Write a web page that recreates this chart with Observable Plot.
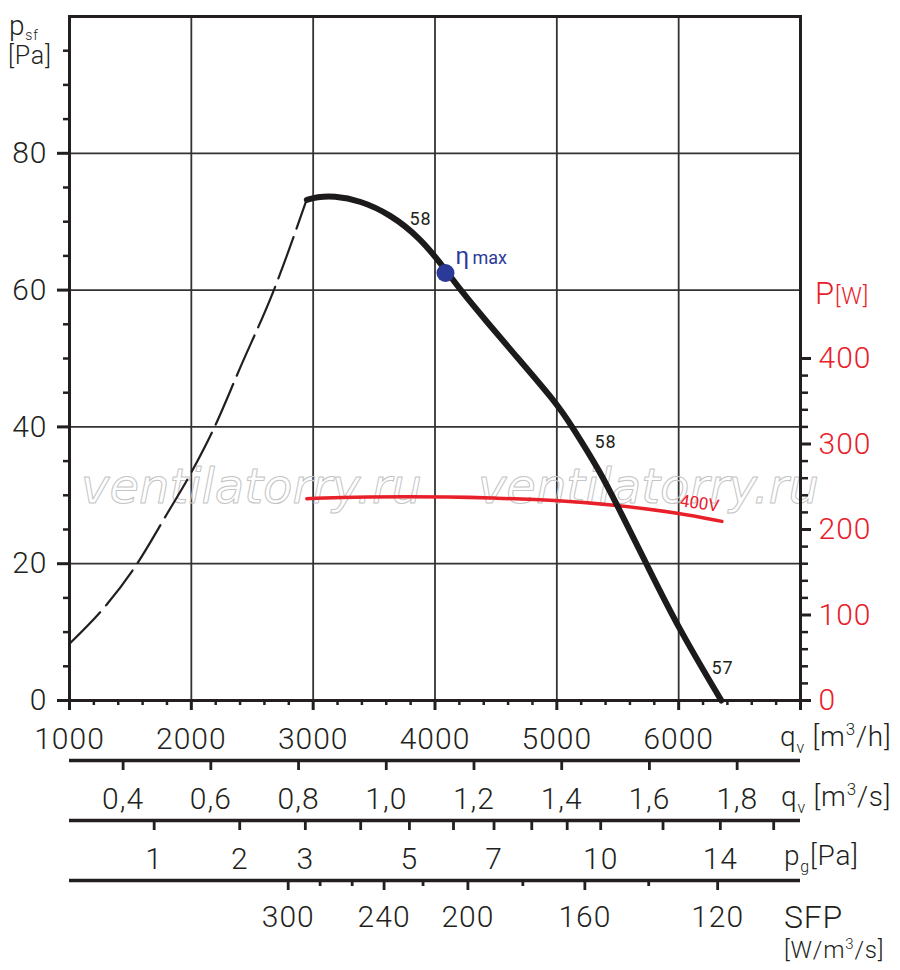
<!DOCTYPE html>
<html>
<head>
<meta charset="utf-8">
<script src="https://cdn.jsdelivr.net/npm/d3@7"></script>
<script src="https://cdn.jsdelivr.net/npm/@observablehq/plot@0.6"></script>
<style>
  html, body { margin: 0; padding: 0; background: white; }
  #chart { width: 900px; line-height: 0; }
  #chart svg { display: block; }
</style>
</head>
<body>
<div id="chart"></div>
<script>
// ---------- data ----------
// fan curve (static pressure p_sf [Pa] vs flow q_v [m3/h]) – unstable (dashed) part
const flowDashed     = [1000, 1309, 1555, 1801, 1992, 2183, 2402, 2675, 2948];
const pressureDashed = [8.3, 14.1, 20.0, 27.3, 33.1, 39.7, 48.7, 59.9, 73.3];
// fan curve – working (solid) part
const flowSolid      = [2948, 3030, 3167, 3385, 3631, 3881, 4086, 4209, 4424, 4620, 4998, 5120, 5352, 5516, 5735, 5994, 6350];
const pressureSolid  = [73.2, 73.6, 73.8, 73.1, 71.1, 67.6, 63.0, 60.0, 55.4, 51.3, 43.5, 40.2, 33.6, 27.8, 20.0, 10.7, 0];
// power curve P [W] (400V)
const flowPower      = [2948, 3389, 4209, 4428, 4990, 5492, 5998, 6355];
const powerW         = [236, 238.5, 238.2, 237.0, 234.3, 228.5, 219.4, 209.5];
// max efficiency point
const etaMax = [{q: 4086, p: 62.5}];
// efficiency labels along the curve
const effLabels = [
  {q: 3881, p: 70.3, t: "58"},
  {q: 5400, p: 37.7, t: "58"},
  {q: 6360, p: 4.7,  t: "57"}
];

// axes
const flowDomain      = [1000, 7000];
const pressureDomain  = [0, 100];
const flowLabels      = [1000, 2000, 3000, 4000, 5000, 6000];
const flowGrid        = [2000, 3000, 4000, 5000, 6000];
const pressureLabels  = [0, 20, 40, 60, 80];
const pressureGrid    = [20, 40, 60, 80];
const powerLabels     = [0, 100, 200, 300, 400];
const W_PER_PA        = 8;          // right axis: 800 W spans the same height as 100 Pa

// secondary flow scales
const qsTicks     = [0.4, 0.6, 0.8, 1.0, 1.2, 1.4, 1.6, 1.8];      // m3/s
const SEC_PER_H   = 3600;
const pgLabeled   = [1, 2, 3, 5, 7, 10, 14];                        // dynamic pressure [Pa]
const pgUnlabeled = [4, 6, 8, 9, 12, 16];
const PG_FLOW_1PA = 1695;                                           // flow [m3/h] at p_g = 1 Pa
const sfpLabeled       = [300, 240, 200, 160, 120];                 // SFP [W/(m3/s)]
const sfpLabeledFlow   = [2795, 3582, 4270, 5230, 6320];            // read positions [m3/h]
const sfpUnlabeled     = [280, 260, 220, 180, 140];
const sfpUnlabeledFlow = [3057, 3320, 3902, 4721, 5754];

// ---------- derived tables ----------
const dashed = flowDashed.map((q, i) => ({q, p: pressureDashed[i]}));
const solid  = flowSolid.map((q, i) => ({q, p: pressureSolid[i]}));
const power  = flowPower.map((q, i) => ({q, w: powerW[i]}));
const flowMinor = d3.range(1200, 7000, 200).filter(v => v % 1000 !== 0);
const pressureMinor = d3.range(5, 100, 5).filter(v => v % 20 !== 0);
const powerMinor = d3.range(20, 400, 20).filter(v => v % 100 !== 0);

const INK = "#231f20";
const RED = "#e8202a";
const BLUE = "#2b3a98";
const FONT = "Roboto, 'DejaVu Sans', sans-serif";

const main = Plot.plot({
  width: 900, height: 758,
  marginLeft: 69, marginRight: 100, marginTop: 16, marginBottom: 58,
  x: {domain: flowDomain},
  y: {domain: pressureDomain},
  style: {fontFamily: FONT, fontSize: "30px", color: INK, background: "white", fontWeight: 300},
  marks: [
    Plot.ruleX(flowGrid, {stroke: "#333", strokeWidth: 1.8}),
    Plot.ruleY(pressureGrid, {stroke: "#333", strokeWidth: 1.8}),
    Plot.text([2494, 5752], {x: d => d, y: 31.1, text: () => "ventilatorry.ru",
      fontFamily: "'DejaVu Sans', sans-serif", fontStyle: "italic", fontSize: 48, fontWeight: 400,
      fill: "none", stroke: "#c4c4c4", strokeWidth: 1}),
    Plot.frame({stroke: INK, strokeWidth: 3}),
    Plot.line(dashed, {x: "q", y: "p", curve: "monotone-x", stroke: INK, strokeWidth: 2.2, strokeDasharray: "44 9"}),
    Plot.line(power, {x: "q", y: d => d.w / W_PER_PA, curve: "basis", stroke: RED, strokeWidth: 3.5, strokeLinecap: "round"}),
    Plot.line(solid, {x: "q", y: "p", curve: "basis", stroke: "#1c1a1a", strokeWidth: 6, strokeLinecap: "round", strokeLinejoin: "round"}),
    Plot.dot(etaMax, {x: "q", y: "p", r: 9, fill: BLUE}),
    Plot.text(etaMax, {x: d => d.q + 82, y: d => d.p + 2.5, text: () => "η", textAnchor: "start", fontSize: 24, fill: BLUE, fontWeight: 400}),
    Plot.text(etaMax, {x: d => d.q + 222, y: d => d.p + 2.2, text: () => "max", textAnchor: "start", fontSize: 18, fill: BLUE, fontWeight: 400}),
    Plot.text(effLabels, {x: "q", y: "p", text: "t", fontSize: 18, fill: INK, fontWeight: 400}),
    Plot.text([{q: 6171, p: 28.8}], {x: "q", y: "p", text: () => "400V", rotate: 8, fontSize: 17, fill: RED, fontWeight: 400}),
    // bottom flow axis
    Plot.axisX({ticks: flowLabels, tickSize: 10, tickPadding: 17, tickFormat: d => String(d), fontSize: 30, label: null, strokeWidth: 3}),
    Plot.axisX({ticks: [7000], tickSize: 10, tickFormat: () => "", label: null, strokeWidth: 3}),
    Plot.axisX({ticks: flowMinor, tickSize: 5, tickFormat: () => "", label: null, strokeWidth: 2.5}),
    // left pressure axis
    Plot.axisY({ticks: pressureLabels, tickSize: 12, tickPadding: 10, tickFormat: d => String(d), fontSize: 30, label: null, strokeWidth: 3}),
    Plot.axisY({ticks: pressureMinor, tickSize: 6, tickFormat: () => "", label: null, strokeWidth: 2.5}),
    // right power axis
    Plot.axisY({anchor: "right", ticks: powerLabels.map(w => w / W_PER_PA), tickSize: 10, tickFormat: () => "", label: null, strokeWidth: 3}),
    Plot.axisY({anchor: "right", ticks: powerMinor.map(w => w / W_PER_PA), tickSize: 7, tickFormat: () => "", label: null, strokeWidth: 2.5}),
    Plot.axisY({anchor: "right", ticks: powerLabels.map(w => w / W_PER_PA), tickSize: 0, tickPadding: 18,
      tickFormat: d => String(Math.round(d * W_PER_PA)), fontSize: 30, label: null, color: RED})
  ]
});

function axisRow(h, majors, minors, minorInset, labelDy) {
  return Plot.plot({
    width: 900, height: h,
    marginLeft: 69, marginRight: 100, marginTop: 2, marginBottom: h - 12,
    x: {domain: flowDomain, axis: null},
    y: {domain: [0, 1], axis: null},
    style: {fontFamily: FONT, fontSize: "30px", color: INK, background: "white", fontWeight: 300},
    marks: [
      Plot.ruleY([1], {stroke: INK, strokeWidth: 3.3}),
      Plot.tickX(majors, {x: "q", stroke: INK, strokeWidth: 2.8}),
      Plot.tickX(minors, {x: "q", stroke: INK, strokeWidth: 2.8, insetBottom: minorInset}),
      Plot.text(majors, {x: "q", text: "label", frameAnchor: "bottom", lineAnchor: "top", dy: labelDy, fontSize: 30, fill: INK})
    ]
  });
}

const rowQs = axisRow(60,
  qsTicks.map(v => ({q: v * SEC_PER_H, label: v.toFixed(1).replace(".", ",")})), [], 0, 17);
const rowPg = axisRow(60,
  pgLabeled.map(v => ({q: PG_FLOW_1PA * Math.sqrt(v), label: String(v)})),
  pgUnlabeled.map(v => ({q: PG_FLOW_1PA * Math.sqrt(v)})), 0, 17);
const rowSfp = axisRow(92,
  sfpLabeled.map((v, i) => ({q: sfpLabeledFlow[i], label: String(v)})),
  sfpUnlabeled.map((v, i) => ({q: sfpUnlabeledFlow[i]})), 4, 15);

const chart = document.getElementById("chart");
[main, rowQs, rowPg, rowSfp].forEach(s => chart.appendChild(s));

// spaced digits like the original
[main, rowQs, rowPg, rowSfp].forEach(s => {
  d3.select(s).selectAll('g[aria-label$="tick label"] text, g[aria-label="text"] text')
    .filter(function () { return /^[0-9,]+$/.test(this.textContent); })
    .attr("letter-spacing", 1);
});

// compound unit labels with sub/superscripts
function label(svg, x, y, size, fill, parts) {
  const t = d3.select(svg).append("text")
    .attr("x", x).attr("y", y).attr("font-size", size).attr("fill", fill)
    .attr("text-anchor", "start")
    .attr("font-family", FONT).attr("font-weight", 300).attr("letter-spacing", 0.8);
  let shift = 0;
  for (const [txt, opt] of parts) {
    const o = opt || {};
    const target = o.shift || 0;
    const sp = t.append("tspan").attr("dy", target - shift).text(txt);
    shift = target;
    if (o.size) sp.attr("font-size", o.size);
  }
}
label(main, 9, 35, 28, INK, [["p"], ["sf", {size: 14, shift: 5}]]);
label(main, 8, 64, 25, INK, [["[Pa]"]]);
label(main, 815, 304, 31, RED, [["P"], ["[W]", {size: 23}]]);
label(main, 780, 746, 28, INK, [["q"], ["v", {size: 16, shift: 7}], [" [m"], ["3", {size: 17, shift: -11}], ["/h]"]]);
label(rowQs, 781, 48, 28, INK, [["q"], ["v", {size: 16, shift: 7}], [" [m"], ["3", {size: 17, shift: -11}], ["/s]"]]);
label(rowPg, 784, 47, 28, INK, [["p"], ["g", {size: 16, shift: 7}], ["[Pa]"]]);
label(rowSfp, 784, 50, 32, INK, [["SFP"]]);
label(rowSfp, 784, 80, 24, INK, [["[W/m"], ["3", {size: 15, shift: -9}], ["/s]"]]);
</script>
</body>
</html>
